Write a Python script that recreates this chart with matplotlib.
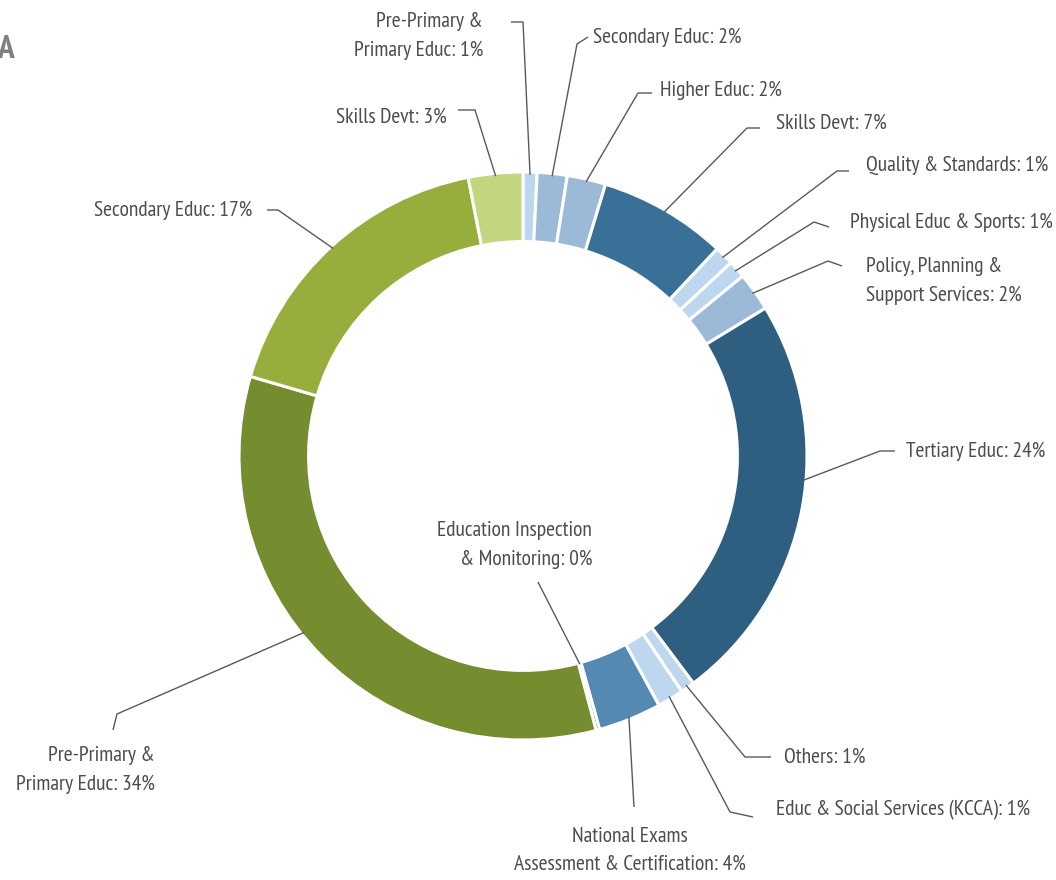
import numpy as np
import matplotlib
matplotlib.use('Agg')
import matplotlib.pyplot as plt

plt.rcParams['font.family'] = ['PT Sans Narrow', 'Roboto Condensed', 'DejaVu Sans']

# slices, clockwise from 12 o'clock
labels = ['Pre-Primary &\nPrimary Educ: 1%', 'Secondary Educ: 2%', 'Higher Educ: 2%',
          'Skills Devt: 7%', 'Quality & Standards: 1%', 'Physical Educ & Sports: 1%',
          'Policy, Planning &\nSupport Services: 2%', 'Tertiary Educ: 24%', 'Others: 1%',
          'Educ & Social Services (KCCA): 1%', 'National Exams\nAssessment & Certification: 4%',
          'Education Inspection\n& Monitoring: 0%', 'Pre-Primary &\nPrimary Educ: 34%',
          'Secondary Educ: 17%', 'Skills Devt: 3%']
shares = [0.8, 1.7, 2.2, 7.3, 1.1, 1.0, 2.2, 23.5, 0.8, 1.5, 3.6, 0.2, 33.7, 17.4, 3.1]
colors = ['#BDD7EE', '#9DB9D8', '#9DB9D8', '#3A7097', '#BDD7EE', '#BDD7EE', '#9DB9D8',
          '#2F5F80', '#BDD7EE', '#BDD7EE', '#5489B3', '#3B6B2B', '#758D2F', '#97AE3D', '#C3D57E']

# layout of the labels, in pixels (y measured from the top)
text_xy = [(483, 36), (593, 37), (660, 90), (776, 123), (866, 165), (850, 222), (866, 281),
           (906, 451), (784, 757), (776, 810), (630, 850), (592, 545), (155, 770),
           (252, 210), (447, 117)]
text_ha = ['right', 'left', 'left', 'left', 'left', 'left', 'left', 'left', 'left', 'left',
           'center', 'right', 'right', 'right', 'right']
elbow_xy = [(523, 22), (577, 44), (638, 93), (747, 128), (837, 171), (814, 222), (828, 261),
            (880, 451), (745, 757), (730, 812), (634, 807), (538, 582), (117, 714),
            (278, 210), (475, 110)]
end_xy = [(511, 22), (588, 37), (652, 93), (760, 128), (849, 171), (829, 227), (842, 266),
          (895, 451), (771, 757), (753, 817), (634, 807), (538, 582), (113, 730),
          (267, 210), (458, 110)]
# where along each slice the leader line attaches (0..1) and at which radius
anchor_frac = [0.5] * 15
anchor_frac[7] = 0.43
anchor_frac[12] = 0.545
anchor_r = [0.99] * 15
anchor_r[11] = 0.76

W, H = 1056, 880
cx, cy, R = 523, 456, 284
ring = 0.245
text_color = '#4D4D4D'
line_color = '#595959'


def px(x, y):
    return x, H - y


fig = plt.figure(figsize=(W / 100, H / 100), dpi=100)
ax = fig.add_axes([0, 0, 1, 1])
ax.pie(shares, colors=colors, startangle=90, counterclock=False, radius=R,
       center=px(cx, cy),
       wedgeprops=dict(width=R * ring, edgecolor='white', linewidth=2.2))

total = sum(shares)
cum = np.cumsum([0] + shares)
for i, lab in enumerate(labels):
    pos = cum[i] + anchor_frac[i] * shares[i]
    theta = np.deg2rad(90 - 360 * pos / total)
    x0 = cx + anchor_r[i] * R * np.cos(theta)
    y0 = cy - anchor_r[i] * R * np.sin(theta)
    ex, ey = elbow_xy[i]
    nx, ny = end_xy[i]
    xs = [x0, ex, nx]
    ys = [H - y0, H - ey, H - ny]
    ax.plot(xs, ys, color=line_color, lw=1.0, solid_capstyle='butt')
    tx, ty = px(*text_xy[i])
    ax.text(tx, ty, lab, ha=text_ha[i], va='center', multialignment=text_ha[i],
            fontsize=15.5, color=text_color, linespacing=1.6)

# panel letter, partly cut off at the left edge as in the source
ax.text(*px(14, 50), 'A', ha='right', va='center', fontsize=24, fontweight='bold',
        color='#808080')

ax.set_xlim(0, W)
ax.set_ylim(0, H)
ax.set_aspect('equal')
ax.axis('off')
fig.savefig('out.png', dpi=100)
